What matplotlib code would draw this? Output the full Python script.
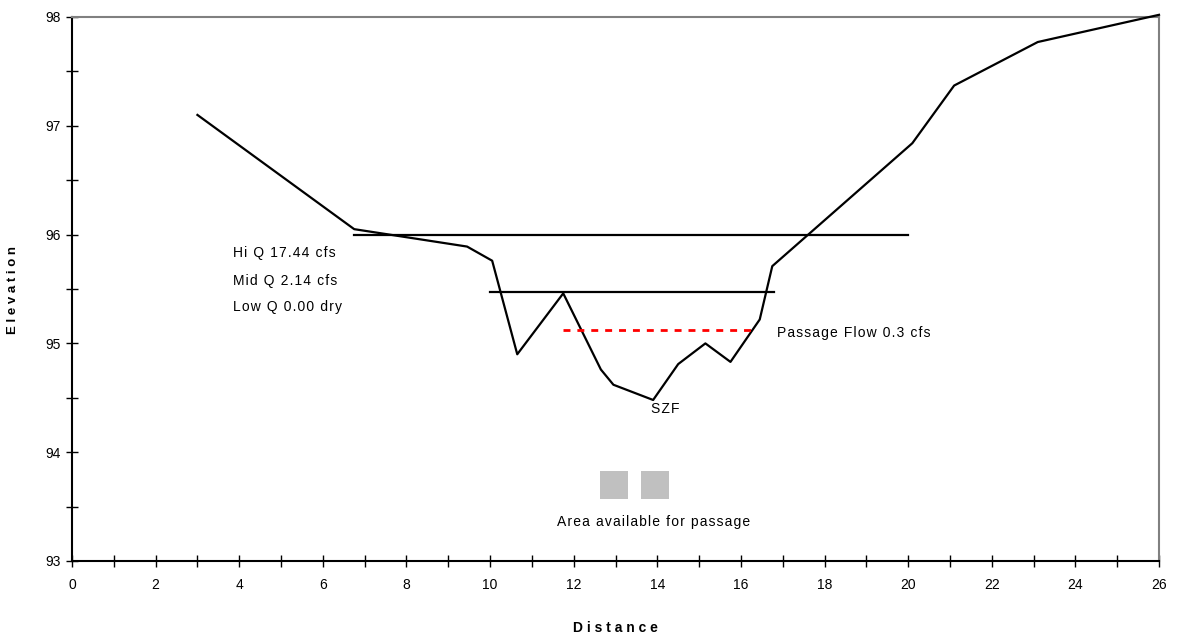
import matplotlib
matplotlib.use("Agg")
import matplotlib.pyplot as plt
from matplotlib.patches import Rectangle
from matplotlib.ticker import MultipleLocator

plt.rcParams["font.family"] = ["Liberation Sans", "DejaVu Sans"]

# ── Data ───────────────────────────────────────────────────────────────
distance = [3.0, 6.75, 9.45, 10.05, 10.65, 11.75, 12.65, 12.95, 13.9,
            14.5, 15.15, 15.75, 16.45, 16.75, 20.1, 21.1, 23.1, 26.0]
elevation = [97.10, 96.05, 95.89, 95.76, 94.90, 95.46, 94.76, 94.62, 94.48,
             94.81, 95.00, 94.83, 95.22, 95.71, 96.84, 97.37, 97.77, 98.02]

hi_q_x = [6.75, 20.0]
hi_q_y = [96.0, 96.0]
mid_q_x = [10.0, 16.8]
mid_q_y = [95.47, 95.47]
passage_x = [11.75, 16.3]
passage_y = [95.12, 95.12]

# gray "area available" cells: (left, bottom, width, height)
area_cells = [(12.63, 93.57, 0.67, 0.26), (13.61, 93.57, 0.67, 0.26)]


def spaced(s: str) -> str:
    # loose letter spacing like the spreadsheet export
    return "\u200a".join(s)


# ── Plot ───────────────────────────────────────────────────────────────
fig = plt.figure(figsize=(11.86, 6.37), dpi=100)
ax = fig.add_axes([72 / 1186, 1 - 561 / 637, (1159 - 72) / 1186, (561 - 17) / 637])

ax.plot(distance, elevation, color="black", linewidth=1.6, clip_on=False, zorder=3)
ax.plot(hi_q_x, hi_q_y, color="black", linewidth=1.6, zorder=3)
ax.plot(mid_q_x, mid_q_y, color="black", linewidth=1.6, zorder=3)
ax.plot(passage_x, passage_y, color="#ff0000", linewidth=2.0,
        linestyle=(0, (2.5, 2.5)), zorder=3)

for (x0, y0, w, h) in area_cells:
    ax.add_patch(Rectangle((x0, y0), w, h, facecolor="#c0c0c0", edgecolor="none"))

txt = dict(fontsize=10, color="black")
ax.text(3.85, 95.83, spaced("Hi Q 17.44 cfs"), ha="left", va="center", **txt)
ax.text(3.85, 95.57, spaced("Mid Q 2.14 cfs"), ha="left", va="center", **txt)
ax.text(3.85, 95.33, spaced("Low Q 0.00 dry"), ha="left", va="center", **txt)
ax.text(16.87, 95.10, spaced("Passage Flow 0.3 cfs"), ha="left", va="center", **txt)
ax.text(14.2, 94.40, spaced("SZF"), ha="center", va="center", **txt)
ax.text(13.9, 93.36, spaced("Area available for passage"), ha="center", va="center", **txt)

ax.set_xlim(0, 26)
ax.set_ylim(93, 98)
ax.xaxis.set_major_locator(MultipleLocator(2))
ax.xaxis.set_minor_locator(MultipleLocator(1))
ax.yaxis.set_major_locator(MultipleLocator(1))
ax.yaxis.set_minor_locator(MultipleLocator(0.5))
ax.tick_params(which="both", direction="inout", length=8, width=1.0, labelsize=10)
ax.tick_params(axis="x", pad=8)
ax.tick_params(axis="y", pad=4)

for side in ["left", "bottom"]:
    ax.spines[side].set_color("black")
    ax.spines[side].set_linewidth(1.5)
for side in ["top", "right"]:
    ax.spines[side].set_color("#808080")
    ax.spines[side].set_linewidth(1.5)

ax.set_xlabel("D i s t a n c e", fontsize=10, fontweight="bold")
ax.xaxis.set_label_coords(0.50, -0.11)
ax.set_ylabel("E l e v a t i o n", fontsize=9.5, fontweight="bold")
ax.yaxis.set_label_coords(-0.049, 0.498)

fig.savefig("out.png", dpi=100)
